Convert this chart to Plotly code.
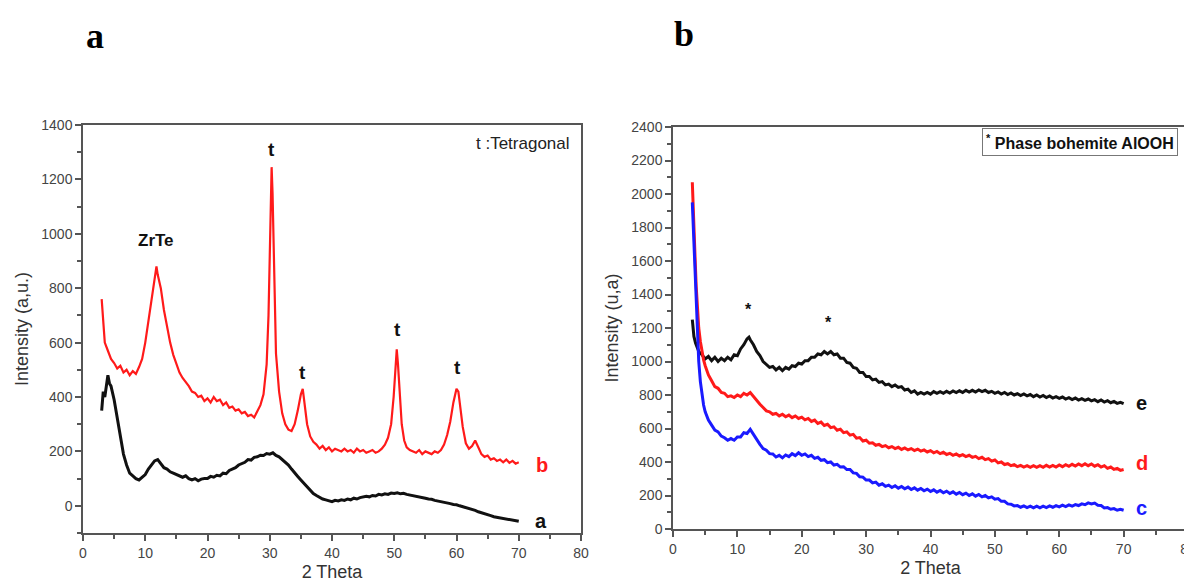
import plotly.graph_objects as go

# ---------------- Panel a ----------------
a_b_x = [3, 3.25, 3.5, 4, 4.5, 5, 5.5, 6, 6.5, 7, 7.5, 8, 8.5, 9, 9.5, 10, 10.5, 11, 11.5, 11.8, 12, 12.5, 13, 13.5,
         14, 14.5, 15, 15.5, 16, 16.5, 17, 17.5, 18, 18.5, 19, 19.5, 20, 20.5, 21, 21.5, 22, 22.5, 23, 23.5, 24,
         24.5, 25, 25.5, 26, 26.5, 27, 27.5, 28, 28.5, 29, 29.5, 29.8, 30.0, 30.2, 30.3, 30.45, 30.6, 30.8, 31.0,
         31.5, 32, 32.5, 33, 33.5, 34, 34.5, 35, 35.3, 35.6, 36, 36.5, 37, 37.5, 38, 38.5, 39, 39.5, 40, 40.5, 41,
         41.5, 42, 42.5, 43, 43.5, 44, 44.5, 45, 45.5, 46, 46.5, 47, 47.5, 48, 48.5, 49, 49.5, 49.9, 50.2, 50.4,
         50.6, 50.9, 51.2, 51.6, 52, 52.5, 53, 53.5, 54, 54.5, 55, 55.5, 56, 56.5, 57, 57.5, 58, 58.5, 59, 59.5,
         60, 60.3, 60.7, 61, 61.5, 62, 62.5, 63, 63.5, 64, 64.5, 65, 65.5, 66, 66.5, 67, 67.5, 68, 68.5, 69, 69.5, 70]
a_b_y = [760, 680, 600, 570, 540, 525, 505, 515, 490, 500, 480, 495, 485, 510, 540, 600, 680, 770, 840, 880, 850,
         800, 720, 660, 600, 555, 520, 490, 470, 455, 440, 420, 415, 400, 405, 385, 395, 380, 400, 385, 390, 370,
         380, 360, 365, 350, 355, 340, 345, 330, 335, 325, 345, 370, 410, 520, 700, 950, 1180, 1245, 1150, 950,
         720, 560, 420, 340, 300, 280, 275, 300, 350, 410, 430, 380, 300, 255, 235, 225, 210, 220, 205, 215, 200,
         210, 205, 200, 210, 200, 205, 195, 210, 200, 205, 195, 200, 205, 195, 200, 210, 225, 250, 300, 400, 520,
         575, 520, 400, 300, 240, 215, 205, 200, 195, 205, 190, 200, 195, 190, 200, 195, 205, 225, 260, 310, 380,
         430, 420, 350, 290, 230, 210, 220, 240, 215, 190, 180, 185, 170, 175, 165, 170, 160, 170, 158, 165, 155, 160]

a_a_x = [3, 3.25, 3.5, 3.75, 4, 4.25, 4.5, 5, 5.5, 6, 6.5, 7, 7.5, 8, 8.5, 9, 9.5, 10, 10.5, 11, 11.5, 12, 12.5,
         13, 13.5, 14, 14.5, 15, 15.5, 16, 16.5, 17, 17.5, 18, 18.5, 19, 19.5, 20, 20.5, 21, 21.5, 22, 22.5, 23,
         23.5, 24, 24.5, 25, 25.5, 26, 26.5, 27, 27.5, 28, 28.5, 29, 29.5, 30, 30.5, 31, 31.5, 32, 32.5, 33, 33.5,
         34, 34.5, 35, 35.5, 36, 36.5, 37, 37.5, 38, 38.5, 39, 39.5, 40, 40.5, 41, 41.5, 42, 42.5, 43, 43.5, 44,
         44.5, 45, 45.5, 46, 46.5, 47, 47.5, 48, 48.5, 49, 49.5, 50, 50.5, 51, 51.5, 52, 52.5, 53, 53.5, 54, 54.5,
         55, 55.5, 56, 56.5, 57, 57.5, 58, 58.5, 59, 59.5, 60, 60.5, 61, 61.5, 62, 62.5, 63, 63.5, 64, 64.5, 65,
         65.5, 66, 66.5, 67, 67.5, 68, 68.5, 69, 69.5, 70]
a_a_y = [350, 420, 400, 440, 480, 450, 440, 390, 320, 250, 190, 150, 120, 110, 100, 95, 105, 115, 135, 150, 165,
         170, 155, 140, 135, 125, 120, 115, 110, 105, 110, 100, 95, 100, 92, 98, 100, 100, 108, 105, 112, 110, 120,
         118, 130, 135, 140, 150, 155, 160, 170, 168, 178, 180, 186, 185, 192, 190, 195, 185, 180, 170, 160, 150,
         135, 120, 108, 95, 82, 70, 58, 45, 38, 30, 25, 22, 18, 15, 20, 18, 22, 20, 25, 22, 28, 25, 30, 32, 35, 33,
         38, 36, 42, 40, 44, 42, 47, 45, 48, 44, 46, 42, 40, 38, 35, 33, 30, 28, 25, 24, 20, 18, 15, 14, 10, 8, 5,
         4, 0, -3, -6, -10, -14, -17, -22, -25, -28, -32, -36, -40, -42, -45, -47, -50, -52, -54, -55, -57]

# ---------------- Panel b ----------------
b_e_x = [3, 3.25, 3.5, 4, 4.5, 5, 5.5, 6, 6.5, 7, 7.5, 8, 8.5, 9, 9.5, 10, 10.5, 11, 11.5, 11.8, 12, 12.5, 13,
         13.5, 14, 14.5, 15, 15.5, 16, 16.5, 17, 17.5, 18, 18.5, 19, 19.5, 20, 20.5, 21, 21.5, 22, 22.5, 23, 23.5,
         24, 24.5, 25, 25.5, 26, 26.5, 27, 27.5, 28, 28.5, 29, 29.5, 30, 30.5, 31, 31.5, 32, 32.5, 33, 33.5, 34,
         34.5, 35, 35.5, 36, 36.5, 37, 37.5, 38, 38.5, 39, 39.5, 40, 40.5, 41, 41.5, 42, 42.5, 43, 43.5, 44, 44.5,
         45, 45.5, 46, 46.5, 47, 47.5, 48, 48.5, 49, 49.5, 50, 50.5, 51, 51.5, 52, 52.5, 53, 53.5, 54, 54.5, 55,
         55.5, 56, 56.5, 57, 57.5, 58, 58.5, 59, 59.5, 60, 60.5, 61, 61.5, 62, 62.5, 63, 63.5, 64, 64.5, 65, 65.5,
         66, 66.5, 67, 67.5, 68, 68.5, 69, 69.5, 70]
b_e_y = [1250, 1150, 1110, 1060, 1040, 1015, 1030, 1005, 1025, 1000, 1020, 1005, 1025, 1010, 1040, 1035, 1075,
         1100, 1135, 1145, 1130, 1100, 1060, 1035, 1000, 985, 965, 970, 950, 965, 945, 965, 955, 975, 970, 990,
         985, 1005, 1005, 1025, 1025, 1045, 1040, 1060, 1045, 1060, 1040, 1045, 1020, 1020, 995, 990, 965, 960,
         935, 935, 910, 910, 890, 895, 875, 880, 860, 865, 850, 860, 845, 850, 830, 835, 815, 825, 805, 815, 805,
         815, 805, 820, 810, 820, 810, 822, 812, 824, 814, 825, 815, 828, 818, 828, 818, 830, 820, 828, 815, 822,
         810, 818, 806, 815, 803, 812, 800, 808, 797, 806, 795, 803, 790, 800, 788, 797, 785, 794, 782, 790, 780,
         788, 776, 784, 773, 782, 770, 778, 768, 776, 765, 772, 760, 770, 758, 766, 754, 762, 750, 756, 748]

b_d_x = [3, 3.2, 3.4, 3.6, 3.8, 4, 4.25, 4.5, 4.75, 5, 5.5, 6, 6.5, 7, 7.5, 8, 8.5, 9, 9.5, 10, 10.5, 11, 11.5,
         12, 12.5, 13, 13.5, 14, 14.5, 15, 15.5, 16, 16.5, 17, 17.5, 18, 18.5, 19, 19.5, 20, 20.5, 21, 21.5, 22,
         22.5, 23, 23.5, 24, 24.5, 25, 25.5, 26, 26.5, 27, 27.5, 28, 28.5, 29, 29.5, 30, 30.5, 31, 31.5, 32, 32.5,
         33, 33.5, 34, 34.5, 35, 35.5, 36, 36.5, 37, 37.5, 38, 38.5, 39, 39.5, 40, 40.5, 41, 41.5, 42, 42.5, 43,
         43.5, 44, 44.5, 45, 45.5, 46, 46.5, 47, 47.5, 48, 48.5, 49, 49.5, 50, 50.5, 51, 51.5, 52, 52.5, 53, 53.5,
         54, 54.5, 55, 55.5, 56, 56.5, 57, 57.5, 58, 58.5, 59, 59.5, 60, 60.5, 61, 61.5, 62, 62.5, 63, 63.5, 64,
         64.5, 65, 65.5, 66, 66.5, 67, 67.5, 68, 68.5, 69, 69.5, 70]
b_d_y = [2070, 1900, 1650, 1450, 1300, 1200, 1120, 1060, 1010, 975, 920, 885, 850, 840, 815, 810, 790, 795, 785,
         800, 790, 810, 800, 815, 790, 770, 745, 725, 705, 700, 685, 690, 675, 685, 670, 680, 665, 675, 660, 668,
         652, 660, 642, 650, 630, 638, 618, 625, 605, 610, 590, 596, 575, 580, 560, 565, 542, 546, 525, 530, 512,
         515, 500, 505, 492, 498, 485, 492, 480, 488, 475, 484, 472, 480, 468, 477, 465, 472, 460, 468, 455, 463,
         450, 458, 445, 452, 440, 448, 436, 444, 432, 440, 428, 434, 420, 428, 414, 420, 405, 412, 395, 400, 385,
         390, 378, 384, 372, 380, 370, 378, 368, 378, 368, 378, 368, 380, 370, 380, 370, 382, 372, 384, 374, 386,
         376, 388, 378, 390, 378, 388, 375, 384, 370, 378, 362, 370, 356, 362, 350, 355]

b_c_x = b_d_x
b_c_y = [1950, 1750, 1500, 1300, 1120, 1000, 880, 800, 740, 700, 650, 620, 590, 580, 555, 545, 530, 540, 530, 550,
         550, 575, 570, 595, 565, 530, 505, 480, 470, 450, 448, 430, 440, 425, 442, 432, 450, 438, 455, 440, 448,
         432, 440, 422, 428, 410, 414, 396, 400, 382, 386, 370, 372, 355, 355, 335, 332, 312, 310, 292, 292, 275,
         280, 262, 270, 255, 262, 248, 258, 244, 254, 240, 250, 236, 246, 232, 242, 228, 238, 224, 234, 220, 230,
         216, 226, 212, 222, 208, 218, 205, 214, 200, 210, 196, 206, 192, 200, 186, 192, 178, 182, 165, 165, 150,
         148, 138, 140, 130, 138, 128, 136, 126, 136, 126, 136, 128, 138, 130, 140, 132, 142, 134, 144, 136, 146,
         140, 150, 145, 156, 150, 155, 142, 140, 126, 128, 118, 122, 112, 118, 112]

# annotation labels
a_peak_x = [30.3, 35.3, 50.5, 60.2]
a_peak_y = [1310, 490, 650, 510]
b_star_x = [11.8, 24.1]
b_star_y = [1310, 1235]

RED = "#ff1a1a"
BLUE = "#1a1aff"
BLK = "#111111"

fig = go.Figure()
fig.add_trace(go.Scatter(x=a_b_x, y=a_b_y, mode="lines", line=dict(color=RED, width=2.2), xaxis="x", yaxis="y"))
fig.add_trace(go.Scatter(x=a_a_x, y=a_a_y, mode="lines", line=dict(color=BLK, width=3), xaxis="x", yaxis="y"))
fig.add_trace(go.Scatter(x=b_e_x, y=b_e_y, mode="lines", line=dict(color=BLK, width=3), xaxis="x2", yaxis="y2"))
fig.add_trace(go.Scatter(x=b_d_x, y=b_d_y, mode="lines", line=dict(color=RED, width=3), xaxis="x2", yaxis="y2"))
fig.add_trace(go.Scatter(x=b_c_x, y=b_c_y, mode="lines", line=dict(color=BLUE, width=3), xaxis="x2", yaxis="y2"))

# page body has an 8px margin: figure pixel = reference pixel - 8
OFF = 8
W, H = 1192 - OFF, 586 - OFF
def px_x(p):
    return (p - OFF) / W
def px_y(p):
    return (H - (p - OFF)) / H

tickfont = dict(family="Liberation Sans, Arial, sans-serif", size=14, color="#444444")
titlefont = dict(family="Liberation Sans, Arial, sans-serif", size=18, color="#333333")
axcommon = dict(showgrid=False, zeroline=False, showline=True, linecolor="#555555", linewidth=1.5,
                mirror=True, ticks="outside", ticklen=6, tickwidth=1.5, tickcolor="#555555",
                tickfont=tickfont, automargin=False)

fig.update_layout(
    width=W, height=H, margin=dict(l=0, r=0, t=0, b=0),
    paper_bgcolor="white", plot_bgcolor="white", showlegend=False,
    xaxis=dict(domain=[px_x(83), px_x(581)], range=[0, 80], dtick=10, anchor="y",
               minor=dict(dtick=5, ticks="outside", ticklen=4, tickcolor="#555555"),
               title=dict(text="2 Theta", font=titlefont, standoff=6), **axcommon),
    yaxis=dict(domain=[px_y(533), px_y(125)], range=[-100, 1400], dtick=200, anchor="x",
               minor=dict(dtick=100, ticks="outside", ticklen=4, tickcolor="#555555"),
               title=dict(text="Intensity (a,u.)", font=titlefont, standoff=8), **axcommon),
    xaxis2=dict(domain=[px_x(673), min(1.0, px_x(1188))], range=[0, 80], dtick=10, anchor="y2",
                minor=dict(dtick=5, ticks="outside", ticklen=4, tickcolor="#555555"),
                ticklabeloverflow="allow",
                title=dict(text="2 Theta", font=titlefont, standoff=6), **axcommon),
    yaxis2=dict(domain=[px_y(529), px_y(127)], range=[0, 2400], dtick=200, anchor="x2",
                minor=dict(dtick=100, ticks="outside", ticklen=4, tickcolor="#555555"),
                title=dict(text="Intensity (u,a)", font=titlefont, standoff=8), **axcommon),
)

ann = []
bold = dict(family="Liberation Sans, Arial, sans-serif", size=19, color="#111111")
# panel labels
ann.append(dict(text="<b>a</b>", x=px_x(95), y=px_y(36), xref="paper", yref="paper", showarrow=False,
                yanchor="middle", xanchor="center",
                font=dict(family="Liberation Serif, Times New Roman, serif", size=36, color="black")))
ann.append(dict(text="<b>b</b>", x=px_x(684), y=px_y(34), xref="paper", yref="paper", showarrow=False,
                yanchor="middle", xanchor="center",
                font=dict(family="Liberation Serif, Times New Roman, serif", size=36, color="black")))
# panel a annotations
ann.append(dict(text="t :Tetragonal", x=px_x(572), y=px_y(143), xref="paper", yref="paper", xanchor="right",
                yanchor="middle", showarrow=False,
                font=dict(family="Liberation Sans, Arial, sans-serif", size=17, color="#222222")))
ann.append(dict(text="<b>ZrTe</b>", x=11.7, y=975, xref="x", yref="y", showarrow=False,
                font=dict(family="Liberation Sans, Arial, sans-serif", size=17, color="#111111")))
for px_, py_ in zip(a_peak_x, a_peak_y):
    ann.append(dict(text="<b>t</b>", x=px_, y=py_, xref="x", yref="y", showarrow=False, font=bold))
ann.append(dict(text="<b>b</b>", x=73.7, y=150, xref="x", yref="y", showarrow=False,
                font=dict(family="Liberation Sans, Arial, sans-serif", size=20, color=RED)))
ann.append(dict(text="<b>a</b>", x=73.5, y=-57, xref="x", yref="y", showarrow=False,
                font=dict(family="Liberation Sans, Arial, sans-serif", size=20, color="#111111")))
# panel b annotations
for sx, sy in zip(b_star_x, b_star_y):
    ann.append(dict(text="<b>*</b>", x=sx, y=sy, xref="x2", yref="y2", showarrow=False,
                    font=dict(family="Liberation Sans, Arial, sans-serif", size=16, color="#111111")))
ann.append(dict(text="<b>e</b>", x=72.8, y=755, xref="x2", yref="y2", showarrow=False,
                font=dict(family="Liberation Sans, Arial, sans-serif", size=20, color="#111111")))
ann.append(dict(text="<b>d</b>", x=72.8, y=395, xref="x2", yref="y2", showarrow=False,
                font=dict(family="Liberation Sans, Arial, sans-serif", size=20, color=RED)))
ann.append(dict(text="<b>c</b>", x=72.8, y=128, xref="x2", yref="y2", showarrow=False,
                font=dict(family="Liberation Sans, Arial, sans-serif", size=20, color=BLUE)))
ann.append(dict(text="<b><sup>*</sup> Phase bohemite AlOOH</b>", x=px_x(1178), y=px_y(128),
                xref="paper", yref="paper", xanchor="right", yanchor="top", showarrow=False,
                bordercolor="#777777", borderwidth=1, borderpad=3, bgcolor="white",
                font=dict(family="Liberation Sans, Arial, sans-serif", size=16, color="#111111")))
fig.update_layout(annotations=ann)

fig.write_html("out.html")
